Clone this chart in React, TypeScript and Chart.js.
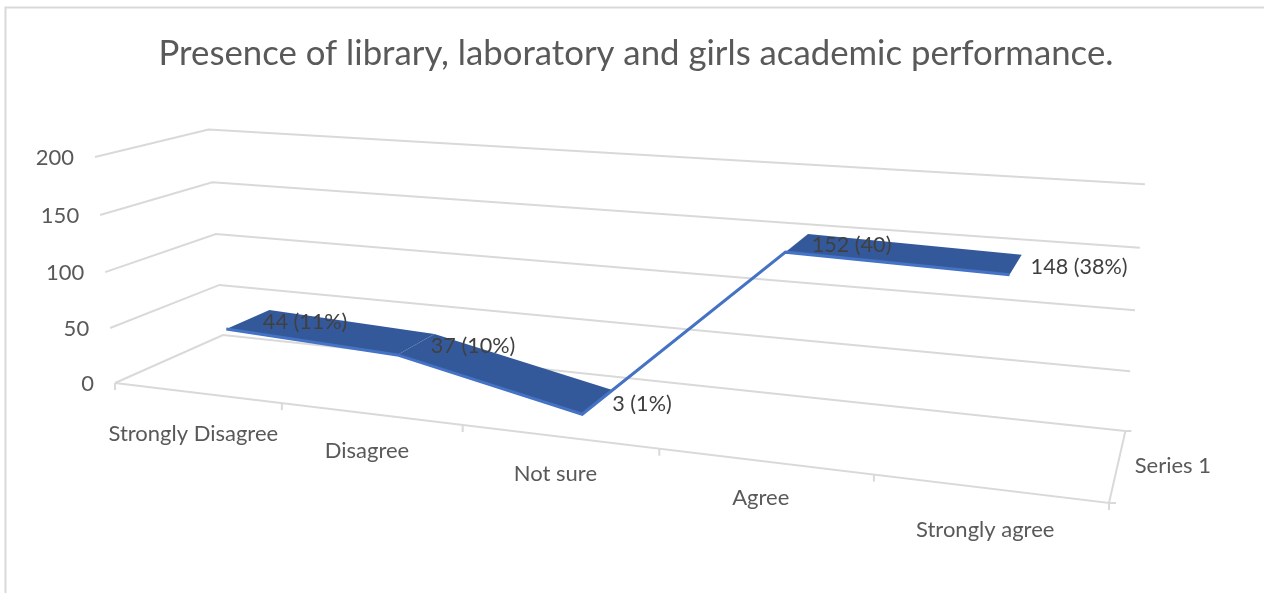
import React, { useEffect, useRef } from "react";
import { Chart, registerables } from "chart.js";

Chart.register(...registerables);

const chartTitle = "Presence of library, laboratory and girls academic performance.";
const categories = ["Strongly Disagree", "Disagree", "Not sure", "Agree", "Strongly agree"];
const values = [44, 37, 3, 152, 148];
const valueLabels = ["44 (11%)", "37 (10%)", "3 (1%)", "152 (40)", "148 (38%)"];
const seriesName = "Series 1";

const GRID = "#d9d9d9";
const TEXT = "#595959";
const LABEL = "#404040";
const RIBBON = "#34599b";
const EDGE = "#4472c4";
const FONT = "Lato, 'Open Sans', sans-serif";

// Depth of the ribbon's two long edges inside the plot box (0 = front, 1 = back wall).
const FRONT_DEPTH = 0.3;
const BACK_DEPTH = 0.72;

// Perspective camera of the 3D box: unit cube (u along categories, v up, w into the page)
// to canvas pixels, in homogeneous form.
const ORIGIN = [115, 383];
const AX_U = [1109, 503];
const AX_V = [95, 157];
const AX_W = [223, 335];
const PERSP = [-0.193, -0.036, 0.105];

function project(u: number, v: number, w: number): [number, number] {
  const [a, b, c] = PERSP;
  const den = 1 + a * u + b * v + c * w;
  const coord = (i: number) =>
    (ORIGIN[i] +
      u * (AX_U[i] * (1 + a) - ORIGIN[i]) +
      v * (AX_V[i] * (1 + b) - ORIGIN[i]) +
      w * (AX_W[i] * (1 + c) - ORIGIN[i])) /
    den;
  return [coord(0), coord(1)];
}

function strokePath(ctx: CanvasRenderingContext2D, pts: [number, number][]) {
  ctx.beginPath();
  pts.forEach(([x, y], i) => (i ? ctx.lineTo(x, y) : ctx.moveTo(x, y)));
  ctx.stroke();
}

// Moves the line elements from flat chart-area positions onto the projected box.
const perspectivePlugin = {
  id: "perspective",
  afterDatasetsUpdate(chart: any) {
    const { left, bottom, width, height } = chart.chartArea;
    chart.data.datasets.forEach((ds: any, di: number) => {
      chart.getDatasetMeta(di).data.forEach((el: any) => {
        const [x, y] = project((el.x - left) / width, (bottom - el.y) / height, ds.depth);
        el.x = x;
        el.y = y;
      });
    });
  },
  // Frame, box gridlines, axis ticks and labels, then the ribbon surface under the line.
  beforeDatasetsDraw(chart: any) {
    const { ctx, chartArea: area, scales } = chart;
    const { x: xScale, y: yScale } = scales;
    ctx.save();
    ctx.strokeStyle = GRID;
    ctx.lineWidth = 2;
    strokePath(ctx, [[5.5, 593], [5.5, 7.5], [1264, 7.5]]);

    ctx.font = `22px ${FONT}`;
    ctx.fillStyle = TEXT;
    ctx.textBaseline = "middle";

    yScale.ticks.forEach((tick: any) => {
      const v = (area.bottom - yScale.getPixelForValue(tick.value)) / area.height;
      const start = project(0, v, 0);
      strokePath(ctx, [start, project(0, v, 1), project(1, v, 1)]);
      ctx.textAlign = "right";
      ctx.fillText(tick.label, start[0] - 21, start[1] + 1);
    });

    strokePath(ctx, [project(0, 0, 0), project(1, 0, 0), project(1, 0, 1)]);

    const n = xScale.ticks.length;
    for (let i = 0; i <= n; i++) {
      const [x, y] = project(i / n, 0, 0);
      strokePath(ctx, [[x, y], [x, y + 7]]);
    }
    xScale.ticks.forEach((tick: any, i: number) => {
      const u = (xScale.getPixelForValue(i) - area.left) / area.width;
      const [x, y] = project(u, 0, 0);
      const label = xScale.getLabelForValue(i);
      ctx.textAlign = "center";
      ctx.fillText(label, x - 3.5, y + (label.length > 10 ? 41 : 37));
    });

    const frontEnd = project(1, 0, 0);
    const backEnd = project(1, 0, 1);
    const midDepth = project(1, 0, 0.5);
    strokePath(ctx, [frontEnd, [frontEnd[0] + 7, frontEnd[1]]]);
    strokePath(ctx, [backEnd, [backEnd[0] + 6, backEnd[1]]]);
    ctx.textAlign = "left";
    ctx.fillText(seriesName, midDepth[0] + 17, midDepth[1] + 1);

    const front = chart.getDatasetMeta(0).data;
    const back = chart.getDatasetMeta(1).data;
    for (let i = 0; i + 1 < front.length; i++) {
      ctx.fillStyle = values[i + 1] > values[i] ? EDGE : RIBBON;
      ctx.beginPath();
      ctx.moveTo(front[i].x, front[i].y);
      ctx.lineTo(front[i + 1].x, front[i + 1].y);
      ctx.lineTo(back[i + 1].x, back[i + 1].y);
      ctx.lineTo(back[i].x, back[i].y);
      ctx.closePath();
      ctx.fill();
    }
    ctx.restore();
  },
  // Value labels sit to the right of the ribbon's centre at each category.
  afterDatasetsDraw(chart: any) {
    const { ctx } = chart;
    const front = chart.getDatasetMeta(0).data;
    const back = chart.getDatasetMeta(1).data;
    ctx.save();
    ctx.font = `21.6px ${FONT}`;
    ctx.fillStyle = LABEL;
    ctx.textAlign = "left";
    ctx.textBaseline = "middle";
    valueLabels.forEach((text, i) => {
      const mx = (front[i].x + back[i].x) / 2;
      const my = (front[i].y + back[i].y) / 2;
      ctx.fillText(text, mx + 15, my + 2);
    });
    ctx.restore();
  },
};

export default function App() {
  const canvasRef = useRef<HTMLCanvasElement | null>(null);

  useEffect(() => {
    const chart = new Chart(canvasRef.current as HTMLCanvasElement, {
      type: "line",
      data: {
        labels: categories,
        datasets: [
          {
            label: seriesName,
            data: values,
            depth: FRONT_DEPTH,
            borderColor: EDGE,
            borderWidth: 3,
            pointRadius: 0,
            tension: 0,
            fill: false,
            clip: false,
          },
          {
            label: seriesName,
            data: values,
            depth: BACK_DEPTH,
            showLine: false,
            pointRadius: 0,
            fill: false,
            clip: false,
          },
        ] as any,
      },
      options: {
        responsive: false,
        animation: false,
        layout: { padding: { left: 8 } },
        scales: {
          x: { type: "category", offset: true, display: false },
          y: { type: "linear", min: 0, max: 200, ticks: { stepSize: 50 }, display: false },
        },
        plugins: {
          legend: { display: false },
          tooltip: { enabled: false },
          title: {
            display: true,
            text: chartTitle,
            color: TEXT,
            font: { family: FONT, size: 34.75, weight: "normal" },
            padding: { top: 33, bottom: 10 },
          },
        },
      },
      plugins: [perspectivePlugin],
    });
    return () => chart.destroy();
  }, []);

  return (
    <canvas
      ref={canvasRef}
      width={1264}
      height={593}
      style={{ position: "absolute", left: 0, top: 0, display: "block", background: "#fff" }}
    />
  );
}
